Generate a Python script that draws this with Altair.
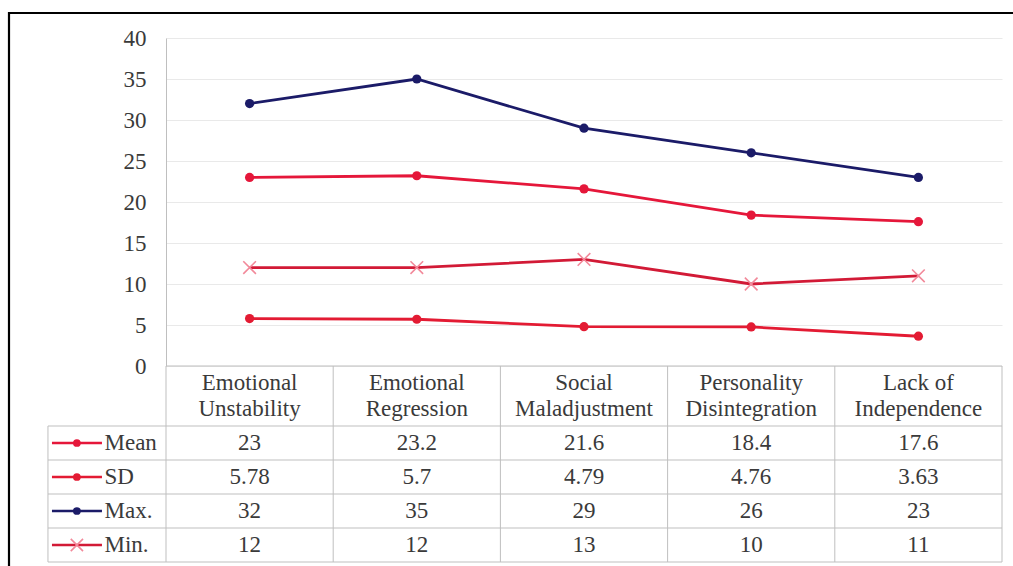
import altair as alt
import pandas as pd

# ---------------- data ----------------
categories = ["Emotional Unstability", "Emotional Regression", "Social Maladjustment",
              "Personality Disintegration", "Lack of Independence"]
series = ["Mean", "SD", "Max.", "Min."]
mean = [23, 23.2, 21.6, 18.4, 17.6]
sd = [5.78, 5.7, 4.79, 4.76, 3.63]
max_ = [32, 35, 29, 26, 23]
min_ = [12, 12, 13, 10, 11]
y_ticks = [0, 5, 10, 15, 20, 25, 30, 35, 40]

line_colors = ["#E5173A", "#E31B33", "#1B1B68", "#D21A36"]
min_marker_color = "#F2899A"

FONT = "'Liberation Serif', 'Times New Roman', 'DejaVu Serif', serif"
FS = 23
TXT = "#3A3A3A"
GRID = "#BFBFBF"

# ---------------- tables ----------------
rows = []
for s_i, (s, vals) in enumerate(zip(series, [mean, sd, max_, min_])):
    for c_i, (c, v) in enumerate(zip(categories, vals)):
        rows.append(dict(series=s, sidx=s_i, cat=c, pos=c_i + 0.5, value=v,
                         label=str(v), row=s_i + 0.5))
long = pd.DataFrame(rows)

header = pd.DataFrame({
    "pos": [i + 0.5 for i in range(len(categories))],
    "text": ["\n".join(c.rsplit(" ", 1)) for c in categories],
    "row": [-1.27] * len(categories),
})

legend = pd.DataFrame({
    "series": series,
    "row": [i + 0.5 for i in range(len(series))],
    "x0": [-0.682] * len(series),
    "x1": [-0.383] * len(series),
    "xm": [-0.533] * len(series),
    "xt": [-0.368] * len(series),
})

n_rows = len(series)
LEFT = -0.706
HEAD_TOP = -1.765
hlines = pd.DataFrame({
    "row": [HEAD_TOP] + list(range(n_rows + 1)),
    "xa": [0] + [LEFT] * (n_rows + 1),
    "xb": [len(categories)] * (n_rows + 2),
})
vlines = pd.DataFrame({
    "x": list(range(len(categories) + 1)) + [LEFT],
    "ra": [HEAD_TOP] * (len(categories) + 1) + [0],
    "rb": [n_rows] * (len(categories) + 2),
})

# ---------------- scales ----------------
xs = alt.Scale(domain=[0, len(categories)], nice=False, zero=False)
ys = alt.Scale(domain=[0, 40], nice=False, zero=False)
rs = alt.Scale(domain=[0, n_rows], range=[388, 524], nice=False, zero=False)
cs = alt.Scale(domain=series, range=line_colors)

# ---------------- layers ----------------
lines = alt.Chart(long).mark_line(strokeWidth=2.8).encode(
    x=alt.X("pos:Q", scale=xs, axis=None),
    y=alt.Y("value:Q", scale=ys, title=None,
            axis=alt.Axis(values=y_ticks, grid=True, gridColor="#E9E9E9", gridWidth=1,
                          ticks=False, domainColor=GRID, domainWidth=1,
                          labelFont=FONT, labelFontSize=FS, labelColor=TXT,
                          labelPadding=20)),
    color=alt.Color("series:N", scale=cs, legend=None),
    detail="series:N",
)

dots = alt.Chart(long).transform_filter("datum.series != 'Min.'").mark_point(
    filled=True, shape="circle", size=85, opacity=1).encode(
    x=alt.X("pos:Q", scale=xs, axis=None),
    y=alt.Y("value:Q", scale=ys, axis=None),
    color=alt.Color("series:N", scale=cs, legend=None),
)

xmarks = alt.Chart(long).transform_filter("datum.series == 'Min.'").mark_point(
    shape="M-1,-1L1,1M-1,1L1,-1", filled=False, size=160, strokeWidth=1.6,
    color=min_marker_color, opacity=1).encode(
    x=alt.X("pos:Q", scale=xs, axis=None),
    y=alt.Y("value:Q", scale=ys, axis=None),
)

hrules = alt.Chart(hlines).mark_rule(color=GRID, strokeWidth=1).encode(
    x=alt.X("xa:Q", scale=xs, axis=None),
    x2="xb:Q",
    y=alt.Y("row:Q", scale=rs, axis=None),
)

vrules = alt.Chart(vlines).mark_rule(color=GRID, strokeWidth=1).encode(
    x=alt.X("x:Q", scale=xs, axis=None),
    y=alt.Y("ra:Q", scale=rs, axis=None),
    y2="rb:Q",
)

cells = alt.Chart(long).mark_text(font=FONT, fontSize=FS, color=TXT,
                                  align="center", baseline="middle").encode(
    x=alt.X("pos:Q", scale=xs, axis=None),
    y=alt.Y("row:Q", scale=rs, axis=None),
    text="label:N",
)

heads = alt.Chart(header).mark_text(font=FONT, fontSize=FS, color=TXT, align="center",
                                    baseline="middle", lineBreak="\n", lineHeight=26).encode(
    x=alt.X("pos:Q", scale=xs, axis=None),
    y=alt.Y("row:Q", scale=rs, axis=None),
    text="text:N",
)

key_lines = alt.Chart(legend).mark_rule(strokeWidth=2.6).encode(
    x=alt.X("x0:Q", scale=xs, axis=None),
    x2="x1:Q",
    y=alt.Y("row:Q", scale=rs, axis=None),
    color=alt.Color("series:N", scale=cs, legend=None),
)

key_dots = alt.Chart(legend).transform_filter("datum.series != 'Min.'").mark_point(
    filled=True, shape="circle", size=60, opacity=1).encode(
    x=alt.X("xm:Q", scale=xs, axis=None),
    y=alt.Y("row:Q", scale=rs, axis=None),
    color=alt.Color("series:N", scale=cs, legend=None),
)

key_x = alt.Chart(legend).transform_filter("datum.series == 'Min.'").mark_point(
    shape="M-1,-1L1,1M-1,1L1,-1", filled=False, size=150, strokeWidth=1.6,
    color=min_marker_color, opacity=1).encode(
    x=alt.X("xm:Q", scale=xs, axis=None),
    y=alt.Y("row:Q", scale=rs, axis=None),
)

key_text = alt.Chart(legend).mark_text(font=FONT, fontSize=FS, color=TXT,
                                       align="left", baseline="middle").encode(
    x=alt.X("xt:Q", scale=xs, axis=None),
    y=alt.Y("row:Q", scale=rs, axis=None),
    text="series:N",
)

frame = alt.Chart(pd.DataFrame({"k": [0]})).mark_rect(
    filled=False, color="black", strokeWidth=2.2).encode(
    x=alt.value(-157), x2=alt.value(860), y=alt.value(-25), y2=alt.value(540),
)

chart = alt.layer(
    hrules, vrules, lines, dots, xmarks, cells, heads,
    key_lines, key_dots, key_x, key_text, frame,
).resolve_scale(y="independent").properties(
    width=836, height=328,
    autosize=alt.AutoSizeParams(type="none"),
    padding={"left": 166, "top": 38, "right": 11, "bottom": 200},
    background="white",
).configure_view(strokeWidth=0)

chart.save("out.html", embed_options={"renderer": "svg", "actions": False})
